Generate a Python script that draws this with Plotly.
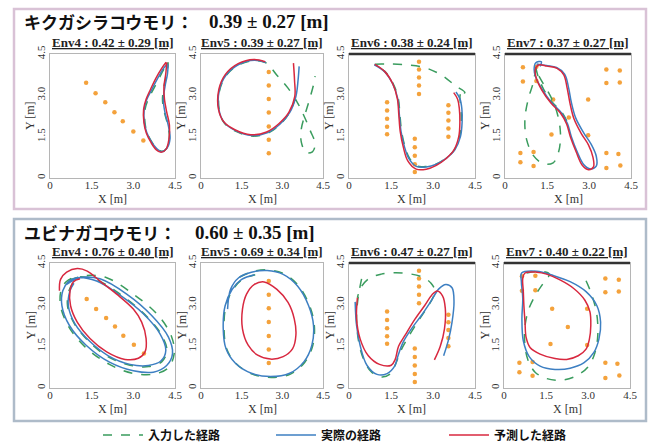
import plotly.graph_objects as go

# ---------------- data (metres) ----------------
TICK_VALS = [0, 1.5, 3.0, 4.5]
TICK_TEXT = ["0", "1.5", "3.0", "4.5"]

SPECIES = ["キクガシラコウモリ：", "ユビナガコウモリ："]
SPECIES_SCORE = ["0.39 ± 0.27 [m]", "0.60 ± 0.35 [m]"]
ENV_NAMES = ["Env4", "Env5", "Env6", "Env7"]
TOP_SCORES = ["0.42 ± 0.29 [m]", "0.39 ± 0.27 [m]", "0.38 ± 0.24 [m]", "0.37 ± 0.27 [m]"]
BOTTOM_SCORES = ["0.76 ± 0.40 [m]", "0.69 ± 0.34 [m]", "0.47 ± 0.27 [m]", "0.40 ± 0.22 [m]"]
SERIES_NAMES = ["入力した経路", "実際の経路", "予測した経路"]
X_TITLE, Y_TITLE = "X [m]", "Y [m]"

# obstacles
OBS_ENV4_TOP = [(1.30, 3.46), (1.64, 3.08), (1.99, 2.75), (2.32, 2.39), (2.62, 2.06), (3.00, 1.69), (3.36, 1.36)]
OBS_ENV4_BOTTOM = [(1.32, 3.20), (1.66, 2.84), (2.02, 2.52), (2.34, 2.21), (2.64, 1.88), (3.02, 1.56), (3.38, 1.24)]
OBS_ENV5 = [(2.50, 3.85), (2.50, 3.36), (2.50, 2.87), (2.50, 2.38), (2.50, 1.87), (2.50, 1.39), (2.50, 0.90)]
OBS_ENV6 = [(2.50, 4.22), (2.50, 3.94), (2.50, 3.65), (2.50, 3.36), (2.50, 3.05),
            (1.36, 2.75), (1.36, 2.45), (1.36, 2.15), (1.36, 1.86), (1.36, 1.59),
            (3.55, 2.64), (3.55, 2.37), (3.55, 2.09), (3.55, 1.80), (3.55, 1.50),
            (2.35, 1.42), (2.35, 1.12), (2.35, 0.81), (2.35, 0.50), (2.35, 0.22)]
OBS_ENV7 = [(0.64, 4.02), (1.12, 4.04), (0.64, 3.50), (1.12, 3.52),
            (3.62, 3.94), (4.10, 3.90), (3.62, 3.45), (4.10, 3.47),
            (1.72, 2.85), (2.97, 2.85), (2.28, 2.20), (1.66, 1.58), (2.97, 1.55),
            (0.55, 0.91), (1.02, 0.94), (0.55, 0.57), (1.02, 0.44),
            (3.62, 0.91), (4.05, 0.87), (3.62, 0.36), (4.12, 0.45)]

# ---- top row (キクガシラコウモリ) ----
T4_INPUT = [(4.25, 4.18), (4.10, 3.95), (3.88, 3.52), (3.70, 3.18), (3.52, 2.82), (3.42, 2.48), (3.42, 2.00),
            (3.50, 1.64), (3.68, 1.28), (3.86, 1.05), (4.04, 0.97), (4.22, 1.10), (4.30, 1.45), (4.24, 1.92),
            (4.12, 2.38), (4.05, 2.84), (4.10, 3.30), (4.20, 3.76), (4.25, 4.18)]
T4_REAL = [(4.23, 4.15), (4.08, 3.97), (3.84, 3.55), (3.66, 3.20), (3.48, 2.84), (3.39, 2.49), (3.40, 2.01),
           (3.48, 1.66), (3.66, 1.30), (3.84, 1.07), (4.02, 0.95), (4.20, 1.07), (4.32, 1.42), (4.26, 1.90),
           (4.14, 2.37), (4.08, 2.84), (4.14, 3.32), (4.23, 3.79), (4.25, 4.12)]
T4_PRED = [(4.18, 4.20), (4.02, 3.98), (3.80, 3.60), (3.62, 3.22), (3.46, 2.86), (3.37, 2.50), (3.38, 2.02),
           (3.47, 1.62), (3.64, 1.28), (3.82, 1.03), (4.00, 0.93), (4.18, 1.05), (4.28, 1.40), (4.30, 1.92),
           (4.20, 2.40), (4.12, 2.86), (4.10, 3.30), (4.17, 3.80), (4.20, 4.20)]

T5_INPUT = [(3.48, 2.90), (3.25, 2.35), (2.90, 1.93), (2.44, 1.62), (1.86, 1.52), (1.27, 1.70), (0.86, 1.99),
            (0.67, 2.48), (0.69, 3.19), (0.93, 3.72), (1.40, 4.11), (1.98, 4.26), (2.40, 4.18), (2.80, 3.73),
            (3.21, 3.26), (3.56, 2.73), (3.80, 2.25), (4.03, 1.72), (4.21, 1.24), (4.11, 0.95), (3.88, 0.92),
            (3.70, 1.30), (3.70, 1.78), (3.82, 2.25), (4.00, 2.84), (4.15, 3.38), (4.21, 3.70)]
T5_REAL = [(3.62, 4.05), (3.58, 3.55), (3.50, 2.96), (3.27, 2.37), (2.91, 1.95), (2.44, 1.64), (1.86, 1.54),
           (1.27, 1.72), (0.86, 2.01), (0.66, 2.49), (0.68, 3.20), (0.92, 3.73), (1.39, 4.12), (1.97, 4.27),
           (2.39, 4.19)]
T5_PRED = [(3.41, 4.17), (3.45, 3.55), (3.46, 2.96), (3.24, 2.38), (2.88, 1.98), (2.42, 1.67), (1.84, 1.57),
           (1.25, 1.75), (0.84, 2.04), (0.64, 2.52), (0.66, 3.22), (0.90, 3.76), (1.37, 4.15), (1.95, 4.30),
           (2.37, 4.22)]

T6_INPUT = [(4.14, 3.10), (3.98, 3.04), (4.00, 2.52), (4.01, 2.04), (3.95, 1.50), (3.76, 1.02), (3.46, 0.72),
            (3.10, 0.50), (2.76, 0.42), (2.42, 0.44), (2.16, 0.72), (2.00, 1.14), (1.88, 1.68), (1.82, 2.28),
            (1.76, 2.88), (1.58, 3.42), (1.28, 3.87), (0.90, 4.11), (1.32, 4.14), (2.04, 4.11), (2.76, 3.99),
            (3.36, 3.70), (3.78, 3.36), (4.14, 3.10)]
T6_REAL = [(0.90, 4.11), (1.26, 3.87), (1.56, 3.42), (1.74, 2.88), (1.80, 2.28), (1.86, 1.68), (1.98, 1.14),
           (2.14, 0.70), (2.40, 0.42), (2.76, 0.40), (3.12, 0.50), (3.48, 0.72), (3.78, 1.02), (3.98, 1.50),
           (4.04, 2.04), (4.03, 2.52), (3.96, 2.88), (3.82, 3.12)]
T6_PRED = [(0.92, 4.12), (1.28, 3.86), (1.57, 3.40), (1.73, 2.86), (1.78, 2.28), (1.83, 1.68), (1.94, 1.12),
           (2.10, 0.62), (2.40, 0.32), (2.76, 0.32), (3.12, 0.46), (3.46, 0.70), (3.74, 1.00), (3.92, 1.50),
           (3.96, 2.04), (3.94, 2.52), (3.88, 2.86), (3.74, 3.10)]

T7_INPUT = [(1.10, 4.01), (1.01, 3.47), (0.83, 2.86), (0.71, 2.13), (0.77, 1.40), (1.01, 0.82), (1.36, 0.52),
            (1.72, 0.55), (1.92, 0.97), (1.98, 1.64), (1.86, 2.37), (1.62, 2.98), (1.34, 3.47), (1.15, 3.83),
            (1.10, 4.01), (1.18, 3.70), (1.38, 3.22), (1.68, 2.76), (2.02, 2.40), (2.24, 2.00)]
T7_REAL = [(1.13, 4.14), (1.48, 4.08), (1.84, 4.01), (2.13, 3.77), (2.27, 3.28), (2.37, 2.74), (2.52, 2.19),
           (2.81, 1.64), (3.08, 1.22), (3.26, 0.79), (3.26, 0.43), (3.05, 0.33), (2.81, 0.49), (2.57, 0.97),
           (2.37, 1.50), (2.23, 1.98), (2.01, 2.37), (1.66, 2.74), (1.34, 3.20), (1.10, 3.65), (1.04, 3.95),
           (1.10, 4.18), (1.30, 4.22), (1.25, 4.05)]
T7_PRED = [(1.20, 4.10), (1.50, 4.06), (1.86, 3.98), (2.10, 3.74), (2.22, 3.26), (2.32, 2.72), (2.46, 2.16),
           (2.72, 1.62), (2.98, 1.20), (3.14, 0.76), (3.16, 0.40), (2.98, 0.30), (2.76, 0.46), (2.54, 0.95),
           (2.34, 1.48), (2.20, 1.96), (1.98, 2.36), (1.64, 2.72), (1.32, 3.18), (1.12, 3.62), (1.08, 3.92),
           (1.20, 4.10)]

# ---- bottom row (ユビナガコウモリ) ----
B4_INPUT = [(0.70, 3.88), (1.32, 4.05), (2.04, 3.97), (3.00, 3.38), (3.90, 2.61), (4.38, 1.84), (4.47, 1.24),
            (4.26, 0.73), (3.75, 0.50), (2.98, 0.53), (2.14, 0.85), (1.26, 1.48), (0.66, 2.23), (0.38, 2.96),
            (0.40, 3.53), (0.58, 3.82), (0.94, 4.00), (1.70, 3.88), (2.55, 3.36), (3.40, 2.66), (4.00, 1.94),
            (4.21, 1.34), (4.02, 0.94), (3.55, 0.77), (2.88, 0.82), (2.08, 1.13), (1.40, 1.67), (0.88, 2.31),
            (0.63, 2.96), (0.69, 3.52), (0.84, 3.80)]
B4_REAL = [(0.60, 3.73), (1.08, 3.97), (1.80, 3.93), (2.76, 3.38), (3.66, 2.61), (4.26, 1.84), (4.41, 1.24),
           (4.20, 0.81), (3.72, 0.57), (3.00, 0.62), (2.16, 0.92), (1.30, 1.54), (0.70, 2.25), (0.43, 2.96),
           (0.46, 3.50), (0.66, 3.82), (0.96, 3.97), (1.68, 3.85), (2.52, 3.34), (3.36, 2.67), (3.96, 1.95),
           (4.17, 1.36), (3.99, 0.97), (3.54, 0.81), (2.88, 0.85), (2.10, 1.16), (1.42, 1.69), (0.90, 2.31),
           (0.66, 2.96), (0.72, 3.50), (0.86, 3.77)]
B4_PRED = [(0.34, 3.50), (0.38, 3.91), (0.60, 4.17), (0.98, 4.30), (1.34, 4.21), (1.80, 3.85), (2.40, 3.38),
           (3.00, 2.84), (3.30, 2.37), (3.46, 1.78), (3.42, 1.30), (3.18, 1.07), (2.70, 1.03), (2.04, 1.30),
           (1.44, 1.78), (0.98, 2.37), (0.74, 2.96), (0.72, 3.50), (0.84, 3.82), (1.08, 3.93)]

B5_INPUT = [(1.42, 3.99), (1.89, 4.19), (2.47, 4.25), (3.06, 4.11), (3.59, 3.69), (4.00, 2.98), (4.18, 2.25),
            (4.12, 1.52), (3.83, 0.93), (3.30, 0.50), (2.59, 0.38), (1.89, 0.50), (1.30, 0.87), (0.95, 1.40),
            (0.85, 2.13), (0.92, 2.96), (1.18, 3.55), (1.53, 3.91), (2.00, 4.08)]
B5_REAL = [(0.98, 2.84), (1.09, 3.55), (1.39, 3.97), (1.86, 4.17), (2.44, 4.23), (3.03, 4.09), (3.56, 3.67),
           (3.97, 2.96), (4.15, 2.25), (4.09, 1.54), (3.80, 0.95), (3.27, 0.53), (2.56, 0.41), (1.86, 0.53),
           (1.27, 0.89), (0.92, 1.42), (0.82, 2.13), (0.89, 2.96), (1.15, 3.55), (1.50, 3.91), (1.97, 4.08)]
B5_PRED = [(2.33, 3.82), (2.80, 3.55), (3.21, 3.08), (3.44, 2.49), (3.50, 1.90), (3.38, 1.42), (3.03, 1.13),
           (2.56, 1.04), (2.09, 1.18), (1.74, 1.54), (1.53, 2.13), (1.53, 2.84), (1.68, 3.38), (1.97, 3.73),
           (2.33, 3.82)]

B6_INPUT = [(0.45, 3.93), (0.33, 3.28), (0.27, 2.55), (0.33, 1.76), (0.51, 1.06), (0.81, 0.57), (1.17, 0.40),
            (1.48, 0.51), (1.66, 0.85), (1.85, 1.34), (2.11, 1.82), (2.41, 2.31), (2.71, 2.77), (2.98, 3.22),
            (3.08, 3.47), (2.93, 3.77), (2.65, 3.98), (2.17, 4.11), (1.63, 4.15), (1.15, 4.10), (0.72, 3.95),
            (0.42, 3.61), (0.30, 3.25)]
B6_REAL = [(0.22, 3.10), (0.27, 2.25), (0.40, 1.52), (0.64, 0.82), (1.00, 0.49), (1.36, 0.52), (1.63, 0.79),
           (1.75, 1.16), (1.93, 1.64), (2.23, 2.13), (2.59, 2.62), (2.93, 3.13), (3.20, 3.56), (3.46, 3.73),
           (3.68, 3.61), (3.75, 3.10), (3.68, 2.37), (3.56, 1.76), (3.38, 1.16)]
B6_PRED = [(0.30, 3.25), (0.27, 2.49), (0.40, 1.76), (0.69, 1.16), (1.09, 0.85), (1.51, 0.82), (1.65, 1.03),
           (1.77, 1.50), (2.01, 1.91), (2.35, 2.47), (2.71, 2.98), (2.96, 3.35), (3.15, 3.49), (3.34, 3.32),
           (3.44, 2.86), (3.41, 2.13), (3.26, 1.50), (3.05, 1.01)]

B7_INPUT = [(2.93, 3.86), (3.13, 3.37), (3.31, 2.68), (3.35, 1.91), (3.25, 1.28), (3.01, 0.77), (2.57, 0.43),
            (2.06, 0.28), (1.52, 0.34), (1.11, 0.57), (0.85, 1.03), (0.74, 1.64), (0.76, 2.31), (0.90, 2.88),
            (1.14, 3.37), (1.40, 3.77), (1.62, 4.10), (1.29, 4.20), (0.81, 4.14)]
B7_REAL = [(0.63, 4.14), (1.17, 4.20), (1.76, 4.05), (2.36, 3.83), (2.93, 3.47), (3.31, 2.98), (3.45, 2.37),
           (3.39, 1.76), (3.21, 1.28), (2.86, 0.91), (2.36, 0.71), (1.82, 0.67), (1.29, 0.79), (0.90, 1.13),
           (0.69, 1.70), (0.64, 2.49), (0.67, 3.22), (0.62, 3.83), (0.63, 4.14)]
B7_PRED = [(0.75, 4.14), (1.17, 4.17), (1.52, 4.10), (2.00, 3.89), (2.48, 3.59), (2.89, 3.16), (3.07, 2.74),
           (3.10, 2.25), (3.05, 1.76), (2.93, 1.40), (2.65, 1.16), (2.24, 1.03), (1.82, 1.06), (1.29, 1.22),
           (0.93, 1.46), (0.79, 1.82), (0.75, 2.37), (0.71, 2.98), (0.69, 3.47), (0.67, 3.95), (0.75, 4.14)]

# ---------------- layout (pixels) ----------------
W, H = 649, 446
FRAMES = [  # left, right, top, bottom (px)
    (50, 175, 54, 178), (201, 323, 54, 178), (349, 475, 54, 178), (505, 631, 54, 178),
    (50, 175, 263, 388), (201, 323, 263, 388), (349, 475, 263, 388), (504, 630, 263, 388),
]
PANELS = [(14, 646, 9, 209, "#d9c2d6"), (14, 646, 219, 421, "#aebbc9")]

C_IN, C_REAL, C_PRED, C_OBS = "#3a9c5e", "#3d7fc2", "#d8283f", "#f4a23c"
SERIF = "Liberation Serif"
JP = "Noto Sans CJK JP"

panels = [
    (OBS_ENV4_TOP, T4_INPUT, T4_REAL, T4_PRED),
    (OBS_ENV5, T5_INPUT, T5_REAL, T5_PRED),
    (OBS_ENV6, T6_INPUT, T6_REAL, T6_PRED),
    (OBS_ENV7, T7_INPUT, T7_REAL, T7_PRED),
    (OBS_ENV4_BOTTOM, B4_INPUT, B4_REAL, B4_PRED),
    (OBS_ENV5, B5_INPUT, B5_REAL, B5_PRED),
    (OBS_ENV6, B6_INPUT, B6_REAL, B6_PRED),
    (OBS_ENV7, B7_INPUT, B7_REAL, B7_PRED),
]

fig = go.Figure()
for i, (obs, pin, preal, ppred) in enumerate(panels):
    k = i + 1
    xa, ya = ("x", "y") if k == 1 else (f"x{k}", f"y{k}")
    fig.add_trace(go.Scatter(x=[p[0] for p in obs], y=[p[1] for p in obs], mode="markers",
                             marker=dict(color=C_OBS, size=4.5), xaxis=xa, yaxis=ya, showlegend=False,
                             hoverinfo="skip"))
    for pts, col, dash, name in [(pin, C_IN, "dash", SERIES_NAMES[0]),
                                 (preal, C_REAL, "solid", SERIES_NAMES[1]),
                                 (ppred, C_PRED, "solid", SERIES_NAMES[2])]:
        fig.add_trace(go.Scatter(x=[p[0] for p in pts], y=[p[1] for p in pts], mode="lines",
                                 line=dict(color=col, width=1.5, dash=dash, shape="spline", smoothing=1.0),
                                 name=name, legendgroup=name, showlegend=(i == 0),
                                 xaxis=xa, yaxis=ya))

axis_common = dict(range=[0, 4.5], tickvals=TICK_VALS, ticktext=TICK_TEXT, showgrid=False, zeroline=False,
                   showline=True, mirror=True, linecolor="#b5b5b5", linewidth=1, ticks="",
                   tickfont=dict(family=SERIF, size=11, color="#333"), automargin=False)
layout_axes = {}
annotations = []
shapes = []
for i, (l, r, t, b) in enumerate(FRAMES):
    k = i + 1
    sx = "" if k == 1 else str(k)
    layout_axes[f"xaxis{sx}"] = dict(axis_common, domain=[l / W, r / W], anchor=f"y{sx}",
                                     ticklabelstandoff=-3)
    layout_axes[f"yaxis{sx}"] = dict(axis_common, domain=[1 - b / H, 1 - t / H], anchor=f"x{sx}",
                                     tickangle=-90)
    annotations.append(dict(text=X_TITLE, x=(l + r) / 2 / W, y=1 - (b + 21) / H, xref="paper", yref="paper",
                            xanchor="center", yanchor="middle", showarrow=False,
                            font=dict(family=SERIF, size=12, color="#333")))
    annotations.append(dict(text=Y_TITLE, x=(l - 11) / W, y=1 - (t + b) / 2 / H, xref="paper", yref="paper",
                            xanchor="right", yanchor="middle", showarrow=False, textangle=-90,
                            font=dict(family=SERIF, size=12, color="#333")))

for j, (l, r, t, b, col) in enumerate(PANELS):
    shapes.append(dict(type="rect", xref="paper", yref="paper", x0=l / W, x1=r / W, y0=1 - b / H, y1=1 - t / H,
                       line=dict(color=col, width=2.5), layer="below"))
for j, ty in enumerate([21, 233]):
    annotations.append(dict(text=f"<b>{SPECIES[j]}</b>", x=22 / W, y=1 - ty / H, xref="paper", yref="paper",
                            xanchor="left", yanchor="middle", showarrow=False, align="left",
                            font=dict(family=JP, size=17, color="#111")))
    annotations.append(dict(text=f"<b>{SPECIES_SCORE[j]}</b>", x=(207 if j == 0 else 193) / W, y=1 - ty / H,
                            xref="paper", yref="paper", xanchor="left", yanchor="middle", showarrow=False,
                            align="left", font=dict(family=SERIF, size=19, color="#111")))
for i, (l, r, t, b) in enumerate(FRAMES):
    scores = TOP_SCORES if i < 4 else BOTTOM_SCORES
    annotations.append(dict(text=f"<b><u>{ENV_NAMES[i % 4]} : {scores[i % 4]}</u></b>",
                            x=(l + r) / 2 / W, y=1 - (t - 2) / H, xref="paper", yref="paper",
                            xanchor="center", yanchor="bottom", showarrow=False,
                            font=dict(family=SERIF, size=13, color="#222")))
    if i % 4 >= 2:
        shapes.append(dict(type="line", xref="paper", yref="paper", x0=l / W, x1=r / W,
                           y0=1 - t / H, y1=1 - t / H, line=dict(color="#333", width=2.5)))

fig.update_layout(
    width=W, height=H, margin=dict(l=0, r=0, t=0, b=0, autoexpand=False),
    paper_bgcolor="white", plot_bgcolor="white",
    annotations=annotations, shapes=shapes,
    legend=dict(orientation="h", x=98 / W, y=1 - 435 / H, xanchor="left", yanchor="middle",
                font=dict(family=JP, size=12, color="#111", weight="bold"), itemwidth=40,
                entrywidth=118, entrywidthmode="pixels", bgcolor="rgba(0,0,0,0)"),
    **layout_axes,
)

fig.write_html("out.html", config={"displayModeBar": False},
               post_script="document.body.style.margin='0';document.body.style.padding='0';"
                           "document.documentElement.style.margin='0';")
